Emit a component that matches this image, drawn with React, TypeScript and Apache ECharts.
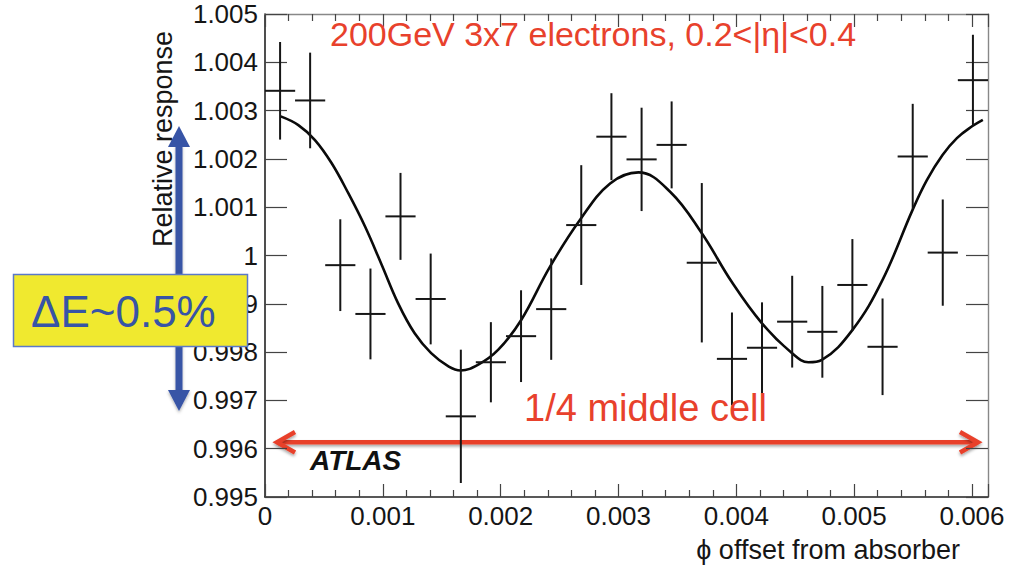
import React, { useEffect, useRef } from "react";
import * as echarts from "echarts";

// ---- data ----
const binCenters = [
  0.000128, 0.000383, 0.000639, 0.000895, 0.00115, 0.001406, 0.001662, 0.001917,
  0.002173, 0.002429, 0.002684, 0.00294, 0.003196, 0.003451, 0.003707, 0.003963,
  0.004218, 0.004474, 0.00473, 0.004985, 0.005241, 0.005497, 0.005752, 0.006008,
];
const response = [
  1.00341, 1.00321, 0.9998, 0.99879, 1.00081, 0.9991, 0.99667, 0.99779,
  0.99833, 0.99889, 1.00063, 1.00246, 1.00199, 1.00229, 0.99985, 0.99786,
  0.99809, 0.99863, 0.99842, 0.99939, 0.99811, 1.00205, 1.00006, 1.00363,
];
const responseErr = [
  0.00101, 0.00099, 0.00095, 0.00094, 0.0009, 0.00094, 0.00138, 0.00083,
  0.00095, 0.00105, 0.00124, 0.0009, 0.00107, 0.0009, 0.00165, 0.00096,
  0.00094, 0.00095, 0.00095, 0.00095, 0.001, 0.00109, 0.0011, 0.00094,
];
const binHalfWidth = 0.000128;

const fitX = [
  0.000133, 0.000283, 0.000424, 0.000566, 0.000707, 0.000849, 0.00099, 0.00113,
  0.00127, 0.00141, 0.00156, 0.00166, 0.00181, 0.00198, 0.002173, 0.002419,
  0.002674, 0.002929, 0.003169, 0.003438, 0.003707, 0.003962, 0.004216, 0.004471,
  0.004612, 0.004726, 0.004986, 0.00524, 0.005495, 0.005617, 0.00575, 0.005872, 0.006004, 0.006092,
];
const fitY = [
  1.00288, 1.0027, 1.00239, 1.00191, 1.00129, 1.0006, 0.99981, 0.99901,
  0.99839, 0.99798, 0.9977, 0.99762, 0.99774, 0.99805, 0.99866, 0.99977,
  1.00074, 1.00149, 1.00172, 1.00132, 1.00046, 0.99945, 0.9986, 0.99798,
  0.99779, 0.99784, 0.99846, 0.99949, 1.00094, 1.00156, 1.00208, 1.00243, 1.00268, 1.00281,
];

const xMin = 0;
const xMax = 0.0061359;
const xInterval = 0.001;
const yMin = 0.995;
const yMax = 1.005;
const yInterval = 0.001;

const titleText = "200GeV 3x7 electrons, 0.2<|η|<0.4";
const yTitle = "Relative response";
const xTitle = "ϕ offset from absorber";
const cellText = "1/4 middle cell";
const atlasText = "ATLAS";
const deltaText = "ΔE~0.5%";

const FONT = "'Liberation Sans', Arial, Helvetica, sans-serif";
const RED = "#e8412c";
const BLUE = "#3754a6";

function fmtX(v: number): string {
  if (Math.abs(v) < 1e-12) return "0";
  const k = Math.round(v / 0.001);
  if (Math.abs(v - k * 0.001) > 1e-9) return "";
  return (k * 0.001).toFixed(3);
}
function fmtY(v: number): string {
  return String(parseFloat((Math.round(v * 1000) / 1000).toFixed(3)));
}

export default function App() {
  const ref = useRef<HTMLDivElement>(null);
  useEffect(() => {
    if (!ref.current) return;
    const chart = echarts.init(ref.current, undefined, { renderer: "svg" });
    const points = binCenters.map((x, i) => [x, response[i], responseErr[i]]);
    const fit = fitX.map((x, i) => [x, fitY[i]]);

    const axisCommonX = {
      type: "value" as const,
      min: xMin,
      max: xMax,
      interval: xInterval,
      splitLine: { show: false },
      minorTick: { show: true, splitNumber: 5, length: 7, lineStyle: { color: "#444", width: 1.2 } },
      axisTick: { show: true, inside: true, length: 13, lineStyle: { color: "#444", width: 1.2 } },
    };
    const axisCommonY = {
      type: "value" as const,
      min: yMin,
      max: yMax,
      interval: yInterval,
      splitLine: { show: false },
      axisTick: { show: true, inside: true, length: 22, lineStyle: { color: "#444", width: 1.2 } },
    };

    const shadow = { shadowBlur: 3, shadowColor: "rgba(0,0,0,0.35)", shadowOffsetY: 2 };

    chart.setOption({
      animation: false,
      grid: { left: 265, right: 27, top: 14, bottom: 68, containLabel: false },
      xAxis: [
        {
          ...axisCommonX,
          position: "bottom",
          axisLine: { show: true, onZero: false, lineStyle: { color: "#222", width: 1.6 } },
          axisLabel: { fontSize: 26, color: "#151515", fontFamily: FONT, margin: 6, formatter: fmtX },
        },
        {
          ...axisCommonX,
          position: "top",
          axisLine: { show: true, onZero: false, lineStyle: { color: "#888", width: 1.4 } },
          axisLabel: { show: false },
        },
      ],
      yAxis: [
        {
          ...axisCommonY,
          position: "left",
          axisLine: { show: true, onZero: false, lineStyle: { color: "#222", width: 1.6 } },
          axisLabel: { fontSize: 26, color: "#151515", fontFamily: FONT, margin: 7, formatter: fmtY },
        },
        {
          ...axisCommonY,
          position: "right",
          axisLine: { show: true, onZero: false, lineStyle: { color: "#888", width: 1.4 } },
          axisLabel: { show: false },
        },
      ],
      series: [
        {
          type: "line",
          name: "fit",
          data: fit,
          smooth: 0.4,
          showSymbol: false,
          symbol: "none",
          lineStyle: { color: "#0a0a0a", width: 2.6 },
          z: 3,
        },
        {
          type: "custom",
          name: "data",
          data: points,
          z: 4,
          renderItem: (_params: any, api: any) => {
            const x = api.value(0);
            const y = api.value(1);
            const e = api.value(2);
            const top = api.coord([x, y + e]);
            const bot = api.coord([x, y - e]);
            const l = api.coord([x - binHalfWidth, y]);
            const r = api.coord([x + binHalfWidth, y]);
            const style = { stroke: "#161616", lineWidth: 2 };
            return {
              type: "group",
              children: [
                { type: "line", shape: { x1: top[0], y1: top[1], x2: bot[0], y2: bot[1] }, style },
                { type: "line", shape: { x1: l[0], y1: l[1], x2: r[0], y2: r[1] }, style },
              ],
            };
          },
        },
      ],
      graphic: [
        {
          type: "text",
          left: 330,
          top: 17,
          z: 50,
          style: { text: titleText, fill: RED, font: `34px ${FONT}` },
        },
        {
          type: "text",
          x: 524,
          y: 389,
          z: 50,
          style: { text: cellText, fill: RED, font: `38px ${FONT}`, textVerticalAlign: "top" },
        },
        {
          type: "text",
          x: 310,
          y: 446,
          z: 50,
          style: { text: atlasText, fill: "#111", font: `italic bold 28px ${FONT}`, textVerticalAlign: "top" },
        },
        // red double arrow
        {
          type: "group",
          z: 40,
          children: [
            {
              type: "rect",
              shape: { x: 278, y: 440, width: 699, height: 4.5 },
              style: { fill: RED, ...shadow },
            },
            {
              type: "polyline",
              shape: { points: [[295, 432], [277, 442.2], [295, 452.5]] },
              style: { stroke: RED, lineWidth: 4.5, fill: "none", lineJoin: "miter", ...shadow },
            },
            {
              type: "polyline",
              shape: { points: [[960, 432], [978, 442.2], [960, 452.5]] },
              style: { stroke: RED, lineWidth: 4.5, fill: "none", lineJoin: "miter", ...shadow },
            },
          ],
        },
        // blue vertical arrow
        {
          type: "group",
          z: 40,
          children: [
            {
              type: "rect",
              shape: { x: 175.5, y: 145, width: 7, height: 248 },
              style: { fill: BLUE, shadowBlur: 3, shadowColor: "rgba(0,0,0,0.3)", shadowOffsetY: 2 },
            },
            {
              type: "polygon",
              shape: { points: [[179, 126], [168, 147], [190, 147]] },
              style: { fill: BLUE },
            },
            {
              type: "polygon",
              shape: { points: [[168, 390], [190, 390], [179, 411]] },
              style: { fill: BLUE, shadowBlur: 3, shadowColor: "rgba(0,0,0,0.3)", shadowOffsetY: 2 },
            },
          ],
        },
        {
          type: "text",
          x: 163,
          y: 139,
          rotation: Math.PI / 2,
          z: 45,
          style: { text: yTitle, fill: "#151515", font: `27px ${FONT}`, align: "center", verticalAlign: "middle" },
        },
        {
          type: "text",
          x: 960,
          y: 550,
          z: 45,
          style: { text: xTitle, fill: "#151515", font: `27px ${FONT}`, align: "right", verticalAlign: "middle" },
        },
        // yellow box
        {
          type: "rect",
          z: 60,
          shape: { x: 13.5, y: 274.5, width: 234, height: 72 },
          style: { fill: "#f0e92f", stroke: "#5b79c9", lineWidth: 1.5 },
        },
        {
          type: "text",
          x: 31,
          y: 311,
          z: 61,
          style: { text: deltaText, fill: BLUE, font: `44px ${FONT}`, align: "left", verticalAlign: "middle" },
        },
      ],
    });
    return () => chart.dispose();
  }, []);
  return (
    <div
      ref={ref}
      style={{ position: "fixed", left: 0, top: 0, width: 1015, height: 565, background: "#fff" }}
    />
  );
}
